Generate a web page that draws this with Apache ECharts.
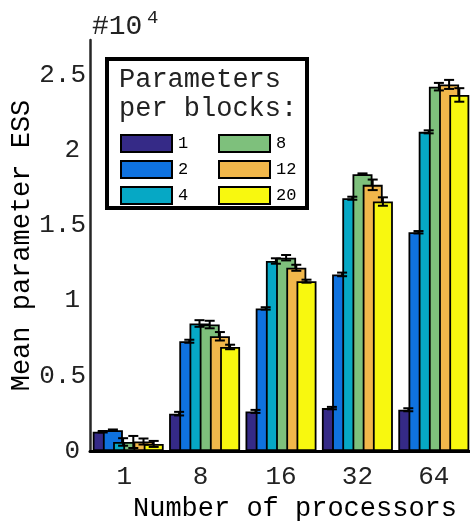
<!DOCTYPE html>
<html>
<head>
<meta charset="utf-8">
<script src="https://cdn.jsdelivr.net/npm/echarts@6/dist/echarts.min.js"></script>
<style>
  html, body { margin: 0; padding: 0; background: #fff; }
  #chart { width: 470px; height: 521px; }
</style>
</head>
<body>
<div id="chart"></div>
<script>
// Number of processors (x categories)
const processors = ['1', '8', '16', '32', '64'];
// Parameters per block (one bar series each)
const blockSizes = ['1', '2', '4', '8', '12', '20'];

// Mean parameter ESS, in units of 10^4
const essBlock1  = [0.128, 0.248, 0.263, 0.285, 0.274];
const essBlock2  = [0.138, 0.729, 0.947, 1.173, 1.453];
const essBlock4  = [0.060, 0.847, 1.262, 1.679, 2.120];
const essBlock8  = [0.060, 0.840, 1.284, 1.839, 2.420];
const essBlock12 = [0.063, 0.762, 1.217, 1.768, 2.435];
const essBlock20 = [0.047, 0.691, 1.128, 1.657, 2.365];

// Half-length of each error bar, same units
const errBlock1  = [0.005, 0.012, 0.010, 0.008, 0.010];
const errBlock2  = [0.005, 0.010, 0.008, 0.012, 0.008];
const errBlock4  = [0.025, 0.022, 0.018, 0.010, 0.010];
const errBlock8  = [0.040, 0.025, 0.018, 0.005, 0.025];
const errBlock12 = [0.020, 0.028, 0.020, 0.035, 0.030];
const errBlock20 = [0.020, 0.015, 0.010, 0.028, 0.045];

// Y axis ticks
const yTickMin = 0;
const yTickStep = 0.5;
const yAxisMax = 2.73;

const essSeries = [essBlock1, essBlock2, essBlock4, essBlock8, essBlock12, essBlock20];
const errSeries = [errBlock1, errBlock2, errBlock4, errBlock8, errBlock12, errBlock20];
const colors = ['#352a87', '#0f72df', '#06a8c5', '#7ec07c', '#f1b74b', '#f8f80f'];

const FONT = 'Liberation Mono';
const BAR_W = 20;
const BAR_GAP = '-49%';

const barSeries = blockSizes.map((name, i) => ({
  name: name,
  type: 'bar',
  data: essSeries[i],
  barWidth: BAR_W,
  barGap: BAR_GAP,
  itemStyle: { color: colors[i], borderColor: '#000', borderWidth: 1.8 },
  emphasis: { disabled: true },
  animation: false
}));

// error bars: [category index, series index, mean, half-length]
const errData = [];
essSeries.forEach((vals, s) => {
  vals.forEach((v, c) => errData.push([c, s, v, errSeries[s][c]]));
});

const errorSeries = {
  type: 'custom',
  name: 'err',
  z: 6,
  data: errData,
  encode: { x: 0, y: 2 },
  animation: false,
  silent: true,
  clip: false,
  renderItem: function (params, api) {
    const c = api.value(0), s = api.value(1), v = api.value(2), e = api.value(3);
    let offset;
    if (api.barLayout) {
      const lay = api.barLayout({ count: blockSizes.length, barWidth: BAR_W, barGap: BAR_GAP });
      offset = lay[s].offsetCenter;
    } else {
      const step = BAR_W * (1 + parseFloat(BAR_GAP) / 100);
      offset = (s - (blockSizes.length - 1) / 2) * step;
    }
    const x = api.coord([c, v])[0] + offset;
    const yHi = api.coord([c, v + e])[1];
    const yLo = api.coord([c, v - e])[1];
    const cap = 5;
    const st = { stroke: '#000', lineWidth: 2 };
    return {
      type: 'group',
      children: [
        { type: 'line', shape: { x1: x, y1: yHi, x2: x, y2: yLo }, style: st },
        { type: 'line', shape: { x1: x - cap, y1: yHi, x2: x + cap, y2: yHi }, style: st },
        { type: 'line', shape: { x1: x - cap, y1: yLo, x2: x + cap, y2: yLo }, style: st }
      ]
    };
  }
};

const legendCommon = {
  orient: 'vertical',
  icon: 'rect',
  itemWidth: 51,
  itemHeight: 17,
  itemGap: 7,
  padding: 0,
  selectedMode: false,
  itemStyle: { borderColor: '#000', borderWidth: 2 },
  textStyle: { fontFamily: FONT, fontSize: 17, color: '#000', padding: [0, 0, 0, 1] }
};

const chart = echarts.init(document.getElementById('chart'), null, { renderer: 'canvas' });
chart.setOption({
  backgroundColor: '#fff',
  animation: false,
  grid: { left: 90, right: -2, top: 40, bottom: 70, containLabel: false, outerBoundsMode: 'none' },
  xAxis: {
    type: 'category',
    data: processors,
    name: 'Number of processors',
    nameLocation: 'middle',
    nameGap: 44,
    nameMoveOverlap: false,
    nameTextStyle: { fontFamily: FONT, fontSize: 27, color: '#000', padding: [0, 0, 0, 28] },
    axisLine: { lineStyle: { color: '#000', width: 3 } },
    axisTick: { show: false },
    axisLabel: {
      margin: 13,
      formatter: v => (v.length === 1 ? '{s|' + v + '}' : '{d|' + v + '}'),
      rich: {
        s: { fontFamily: FONT, fontSize: 26, color: '#222', padding: [0, 8, 0, 0] },
        d: { fontFamily: FONT, fontSize: 26, color: '#222' }
      }
    }
  },
  yAxis: {
    type: 'value',
    min: yTickMin,
    max: yAxisMax,
    interval: yTickStep,
    name: 'Mean parameter ESS',
    nameLocation: 'middle',
    nameGap: 55,
    nameMoveOverlap: false,
    nameTextStyle: { fontFamily: FONT, fontSize: 27, color: '#000' },
    axisLine: { show: true, lineStyle: { color: '#262626', width: 2.5 } },
    axisTick: { show: false },
    splitLine: { show: false },
    axisLabel: {
      margin: 4,
      showMaxLabel: false,
      formatter: v => (Number.isInteger(v) ? '{i|' + v + '}' : '{f|' + v + '}'),
      rich: {
        i: { fontFamily: FONT, fontSize: 26, color: '#222', padding: [0, 6, 0, 0] },
        f: { fontFamily: FONT, fontSize: 26, color: '#222' }
      }
    }
  },
  legend: [
    Object.assign({}, legendCommon, { data: blockSizes.slice(0, 3), left: 120, top: 134 }),
    Object.assign({}, legendCommon, { data: blockSizes.slice(3), left: 218, top: 134 })
  ],
  graphic: [
    {
      type: 'rect', z: 3,
      shape: { x: 107, y: 59, width: 200, height: 149 },
      style: { fill: '#fff', stroke: '#000', lineWidth: 4 }
    },
    {
      type: 'text', z: 5, left: 119, top: 66,
      style: { text: 'Parameters', font: '27px "Liberation Mono"', fill: '#222' }
    },
    {
      type: 'text', z: 5, left: 119, top: 95,
      style: { text: 'per blocks:', font: '27px "Liberation Mono"', fill: '#222' }
    },
    {
      type: 'text', z: 5, left: 92, top: 13,
      style: { text: '#10', font: '28px "Liberation Mono"', fill: '#222' }
    },
    {
      type: 'text', z: 5, left: 147, top: 8,
      style: { text: '4', font: '19px "Liberation Mono"', fill: '#222' }
    }
  ],
  series: barSeries.concat([errorSeries])
});
</script>
</body>
</html>
